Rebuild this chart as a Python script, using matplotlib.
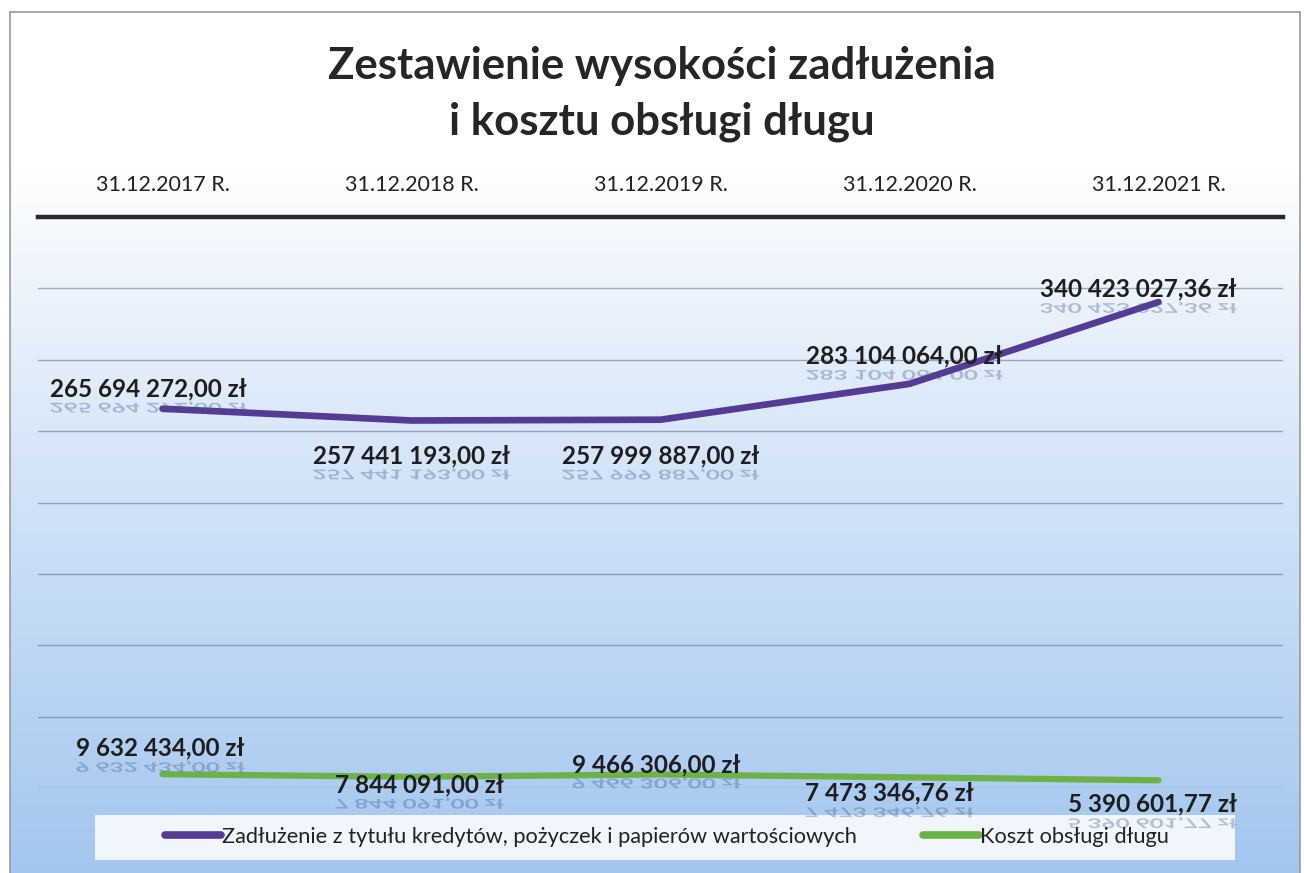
import numpy as np
import matplotlib
matplotlib.use('Agg')
import matplotlib.pyplot as plt
from matplotlib.textpath import TextPath
from matplotlib.font_manager import FontProperties
from matplotlib.patches import PathPatch, Rectangle
from matplotlib.lines import Line2D
import matplotlib.transforms as mtransforms

plt.rcParams['font.family'] = ['Lato', 'DejaVu Sans']

# data
categories = ['31.12.2017 R.', '31.12.2018 R.', '31.12.2019 R.', '31.12.2020 R.', '31.12.2021 R.']
debt = [265694272.00, 257441193.00, 257999887.00, 283104064.00, 340423027.36]
cost = [9632434.00, 7844091.00, 9466306.00, 7473346.76, 5390601.77]
debt_name = 'Zadłużenie z tytułu kredytów, pożyczek i papierów wartościowych'
cost_name = 'Koszt obsługi długu'
title = 'Zestawienie wysokości zadłużenia\ni kosztu obsługi długu'

# label offsets in pixels (dx, dy) relative to point, label centre
debt_off = [(-14, 20), (0, -35), (0, -36), (-5, 28), (-20, 13)]
cost_off = [(-2, 26), (8, -8), (-4, 10), (-20, -16), (-6, -24)]

purple = '#543b94'
green = '#6db246'
W, H = 1304, 873

fig = plt.figure(figsize=(W / 100, H / 100), dpi=100)

# gradient background inside the frame
bg = fig.add_axes([10 / W, 0, 1290 / W, 1 - 12 / H], zorder=-10)
ypix = np.linspace(12, 873, 400)
t = np.clip((ypix - 170) / 700, 0, 1)[:, None] ** 0.9
top = np.array([1.0, 1.0, 1.0])
bot = np.array([0.64, 0.78, 0.94])
grad = top[None, None, :] * (1 - t[..., None]) + bot[None, None, :] * t[..., None]
grad = np.repeat(grad, 2, axis=1)
bg.imshow(grad, aspect='auto', extent=[0, 1, 0, 1])
bg.axis('off')
fig.patches.append(Rectangle((10 / W, -0.01), 1290 / W, 1.01 - 12 / H, transform=fig.transFigure,
                             fill=False, edgecolor='#9a9a9a', lw=1.2, zorder=-5))

ax = fig.add_axes([38 / W, 1 - 788 / H, (1283 - 38) / W, (788 - 217) / H])
ax.set_facecolor('none')
x = np.arange(len(categories))
ax.plot(x, debt, color=purple, lw=4.8, solid_capstyle='round', solid_joinstyle='round', zorder=3)
ax.plot(x, cost, color=green, lw=4.5, solid_capstyle='round', solid_joinstyle='round', zorder=3)
ax.set_xlim(-0.5, len(categories) - 0.5)
ax.set_ylim(0, 400e6)
ax.set_yticks(np.arange(0, 400e6, 50e6))
ax.yaxis.grid(True, color='#4f6487', lw=1.0, alpha=0.5)
ax.set_axisbelow(True)
ax.tick_params(axis='y', left=False, labelleft=False)
ax.xaxis.tick_top()
ax.set_xticks(x)
ax.set_xticklabels(categories, fontsize=15.5, color='#222222')
ax.tick_params(axis='x', length=0, pad=16)
for s in ['left', 'right', 'bottom']:
    ax.spines[s].set_visible(False)
ax.spines['top'].set_linewidth(3.2)
ax.spines['top'].set_color('#2a2a2a')

fp = FontProperties(family='Lato', weight='bold')
lab_fs = 17.5


def fmt(v):
    s = f'{v:,.2f}'.replace(',', ' ').replace('.', ',')
    return s + ' zł'


def label(i, v, off):
    txt = fmt(v)
    dx, dy = off[0] * 0.72, off[1] * 0.72
    ax.annotate(txt, (i, v), xytext=(dx, dy), textcoords='offset points',
                ha='center', va='center', fontsize=lab_fs, fontweight='bold',
                color='#1e1e1e', zorder=5)
    # faded reflection under the label
    tp = TextPath((0, 0), txt, size=lab_fs, prop=fp)
    ext = tp.get_extents()
    cx = (ext.x0 + ext.x1) / 2
    tr = (mtransforms.Affine2D().translate(-cx, 0).scale(1, -0.55)
          .translate(dx, dy - lab_fs * 0.58).scale(1 / 72.)
          + fig.dpi_scale_trans + mtransforms.ScaledTranslation(i, v, ax.transData))
    ax.add_patch(PathPatch(tp, transform=tr, facecolor='#3d5a8a', edgecolor='none',
                           alpha=0.35, clip_on=False, zorder=4))


for i, v in enumerate(debt):
    label(i, v, debt_off[i])
for i, v in enumerate(cost):
    label(i, v, cost_off[i])

fig.text(662 / W, 1 - 94 / H, title, ha='center', va='center', fontsize=31.5,
         fontweight='bold', color='#262626', linespacing=1.5)

# legend box drawn under the axes so label reflections stay visible
fig.patches.append(Rectangle((95 / W, 1 - 860 / H), 1140 / W, 45 / H, transform=fig.transFigure,
                             facecolor='white', alpha=0.85, edgecolor='none', zorder=-1))
handles = [Line2D([], [], color=purple, lw=5.5, solid_capstyle='round'),
           Line2D([], [], color=green, lw=5.5, solid_capstyle='round')]
fig.legend(handles, [debt_name, cost_name], loc='center', bbox_to_anchor=(667 / W, 1 - 837 / H),
           ncol=2, frameon=False, fontsize=15.7, handlelength=2.6, handletextpad=0.05,
           columnspacing=3.0, labelcolor='#222222')

fig.savefig('out.png', dpi=100)
